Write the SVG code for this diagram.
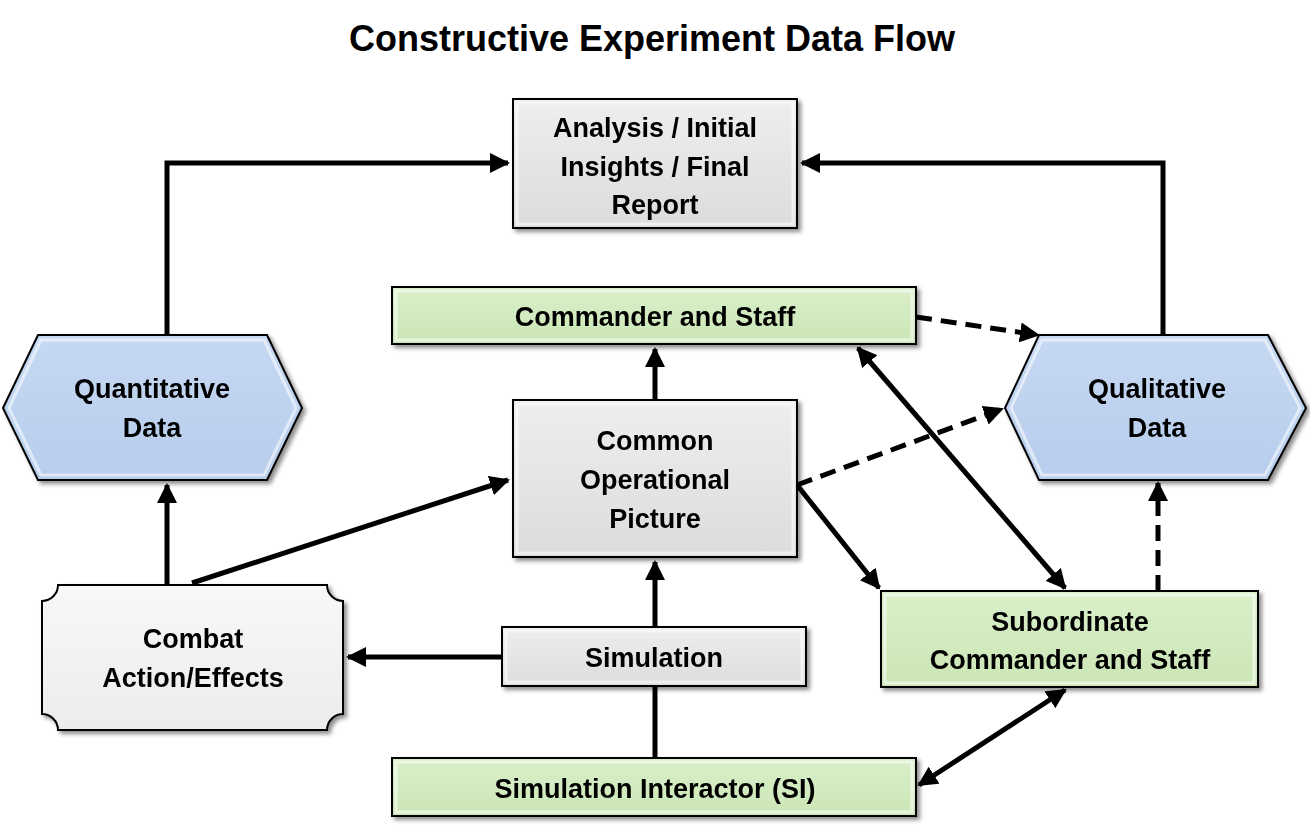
<svg xmlns="http://www.w3.org/2000/svg" width="1310" height="827" viewBox="0 0 1310 827">
<defs>
<style>
text{font-family:"Liberation Sans",Arial,sans-serif;font-weight:bold;fill:#000;text-anchor:middle}
.lbl{font-size:27px}
.node{stroke:#000;stroke-width:2}
.bev{fill:none;stroke:#fff;stroke-opacity:.55;stroke-width:3}
.c{stroke:#000;stroke-width:5;fill:none}
.d{stroke-dasharray:16 9}
</style>
<linearGradient id="gray" x1="0" y1="0" x2="0" y2="1"><stop offset="0" stop-color="#eeeeee"/><stop offset="1" stop-color="#dcdcdc"/></linearGradient>
<linearGradient id="green" x1="0" y1="0" x2="0" y2="1"><stop offset="0" stop-color="#d9efc9"/><stop offset="1" stop-color="#cbe6b6"/></linearGradient>
<linearGradient id="blue" x1="0" y1="0" x2="0" y2="1"><stop offset="0" stop-color="#c6d9f3"/><stop offset="1" stop-color="#b7cdec"/></linearGradient>
<linearGradient id="white" x1="0" y1="0" x2="0" y2="1"><stop offset="0" stop-color="#f8f8f8"/><stop offset="1" stop-color="#ececec"/></linearGradient>
<filter id="sh" x="-10%" y="-10%" width="130%" height="130%"><feDropShadow dx="3" dy="3" stdDeviation="2" flood-opacity="0.45"/></filter>
<marker id="a" viewBox="0 0 10 10" refX="9" refY="5" markerWidth="4" markerHeight="4" orient="auto-start-reverse" markerUnits="strokeWidth"><path d="M0,0L10,5L0,10z" fill="#000"/></marker>
</defs>
<text x="652" y="51" style="font-size:36px">Constructive Experiment Data Flow</text>

<g id="connectors">
<path class="c" d="M167,335V163H508" marker-end="url(#a)"/>
<path class="c" d="M1163,335V163H802" marker-end="url(#a)"/>
<path class="c" d="M655,400V349" marker-end="url(#a)"/>
<path class="c" d="M655,627V562" marker-end="url(#a)"/>
<path class="c" d="M655,758V686"/>
<path class="c" d="M502,657H348" marker-end="url(#a)"/>
<path class="c" d="M167,585V485" marker-end="url(#a)"/>
<path class="c" d="M192,583L508,480" marker-end="url(#a)"/>
<path class="c d" d="M797,485L1002,409" marker-end="url(#a)"/>
<path class="c d" d="M916,317L1038,335" marker-end="url(#a)"/>
<path class="c" d="M797,485L879,588" marker-end="url(#a)"/>
<path class="c" d="M858,348L1065,588" marker-start="url(#a)" marker-end="url(#a)"/>
<path class="c d" d="M1158,591V483" marker-end="url(#a)"/>
<path class="c" d="M919,785L1065,690" marker-start="url(#a)" marker-end="url(#a)"/>
</g>

<g id="analysis" filter="url(#sh)">
<rect class="node" x="513" y="99" width="284" height="129" fill="url(#gray)"/>
<rect class="bev" x="517" y="103" width="276" height="121"/>
<text class="lbl" x="655" y="137">Analysis / Initial</text>
<text class="lbl" x="655" y="176">Insights / Final</text>
<text class="lbl" x="655" y="214">Report</text>
</g>
<g id="commander" filter="url(#sh)">
<rect class="node" x="392" y="287" width="524" height="57" fill="url(#green)"/>
<rect class="bev" x="396" y="291" width="516" height="49"/>
<text class="lbl" x="655" y="326">Commander and Staff</text>
</g>
<g id="quantitative" filter="url(#sh)">
<path class="node" d="M3,408L38,335H267L302,408L267,480H38Z" fill="url(#blue)"/>
<path class="bev" d="M9,408L41,340H264L296,408L264,475H41Z"/>
<text class="lbl" x="152" y="398">Quantitative</text>
<text class="lbl" x="152" y="437">Data</text>
</g>
<g id="qualitative" filter="url(#sh)">
<path class="node" d="M1005,408L1039,335H1268L1306,408L1268,480H1039Z" fill="url(#blue)"/>
<path class="bev" d="M1011,408L1042,340H1265L1300,408L1265,475H1042Z"/>
<text class="lbl" x="1157" y="398">Qualitative</text>
<text class="lbl" x="1157" y="437">Data</text>
</g>
<g id="cop" filter="url(#sh)">
<rect class="node" x="513" y="400" width="284" height="157" fill="url(#gray)"/>
<rect class="bev" x="517" y="404" width="276" height="149"/>
<text class="lbl" x="655" y="450">Common</text>
<text class="lbl" x="655" y="489">Operational</text>
<text class="lbl" x="655" y="528">Picture</text>
</g>
<g id="combat" filter="url(#sh)">
<path class="node" d="M58,585H327A16,16 0 0 0 343,601V714A16,16 0 0 0 327,730H58A16,16 0 0 0 42,714V601A16,16 0 0 0 58,585Z" fill="url(#white)"/>
<text class="lbl" x="193" y="648">Combat</text>
<text class="lbl" x="193" y="687">Action/Effects</text>
</g>
<g id="simulation" filter="url(#sh)">
<rect class="node" x="502" y="627" width="304" height="59" fill="url(#gray)"/>
<rect class="bev" x="506" y="631" width="296" height="51"/>
<text class="lbl" x="654" y="667">Simulation</text>
</g>
<g id="subordinate" filter="url(#sh)">
<rect class="node" x="881" y="591" width="377" height="96" fill="url(#green)"/>
<rect class="bev" x="885" y="595" width="369" height="88"/>
<text class="lbl" x="1070" y="631">Subordinate</text>
<text class="lbl" x="1070" y="669">Commander and Staff</text>
</g>
<g id="si" filter="url(#sh)">
<rect class="node" x="392" y="758" width="524" height="58" fill="url(#green)"/>
<rect class="bev" x="396" y="762" width="516" height="50"/>
<text class="lbl" x="655" y="798">Simulation Interactor (SI)</text>
</g>
</svg>
